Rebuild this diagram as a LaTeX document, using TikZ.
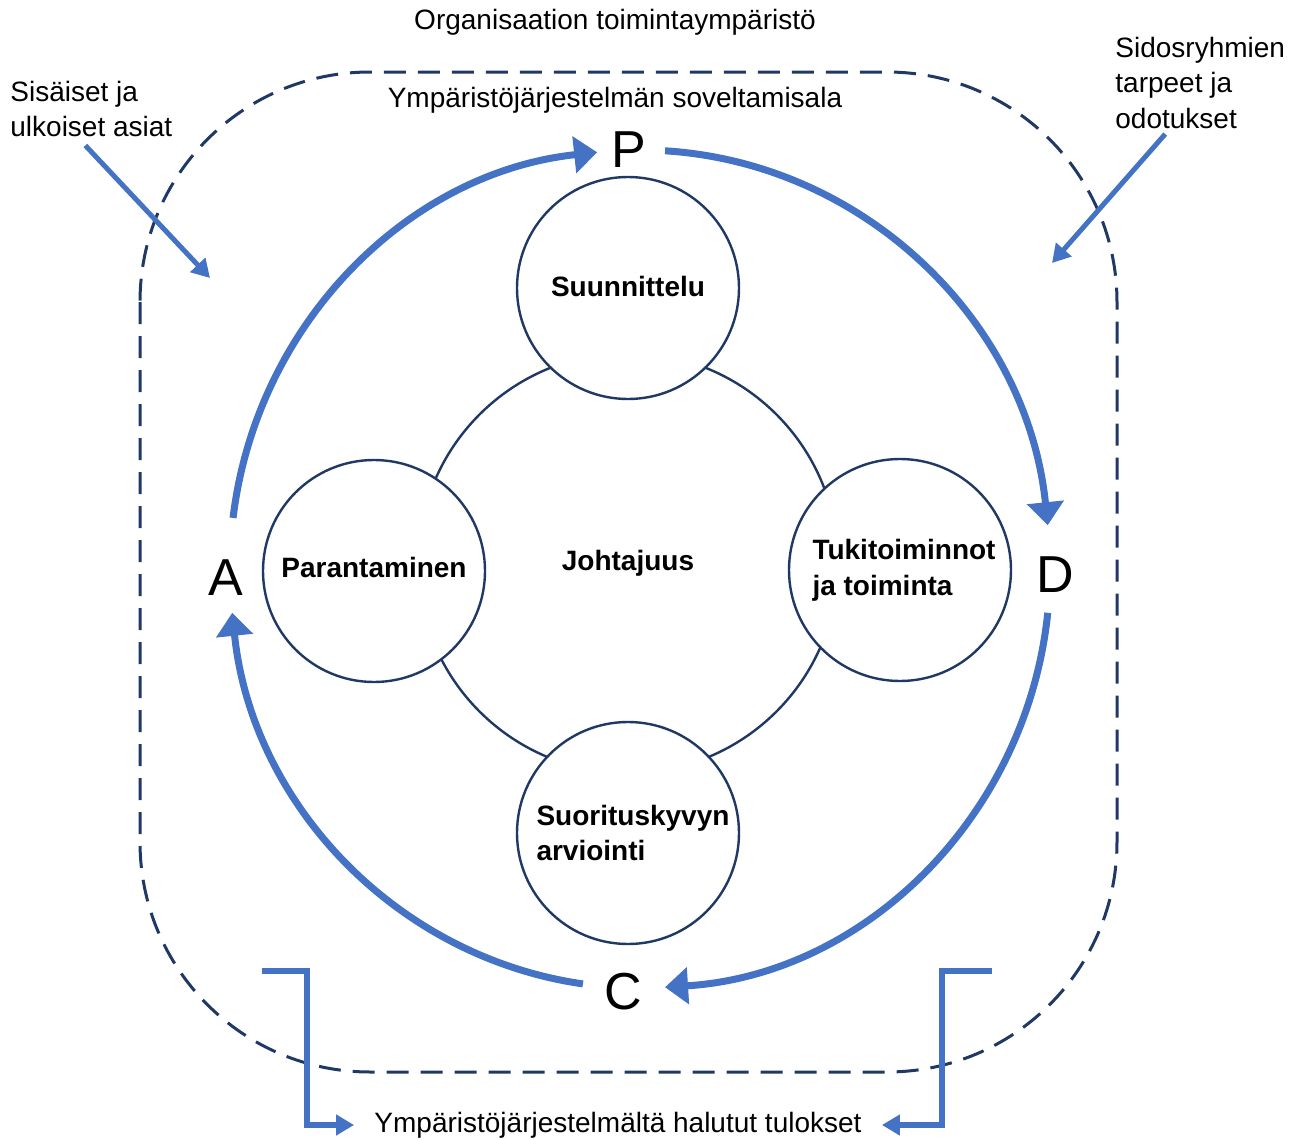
\documentclass[tikz,border=0pt]{standalone}
\usepackage{fontspec}
\setmainfont{Liberation Sans}
\usetikzlibrary{arrows.meta}
\definecolor{pdcablue}{HTML}{4472C4}
\definecolor{rajaus}{HTML}{1F3864}

\begin{document}
\begin{tikzpicture}[x=0.5pt,y=-0.5pt,
  teksti/.style={font=\fontsize{14}{17.8}\selectfont,inner sep=0pt},
  kirjain/.style={font=\fontsize{26}{30}\selectfont,inner sep=0pt},
  pallo/.style={circle,draw=rajaus,line width=1.2pt,fill=white,minimum size=111pt,
    inner sep=0pt,align=left,font=\fontsize{14}{17.8}\selectfont\bfseries},
  kierto/.style={draw=pdcablue,line width=3.5pt,-{Triangle[length=11.5pt,width=18pt]}},
  nuoli/.style={draw=pdcablue,line width=2.5pt,-{Triangle[length=9pt,width=10pt]}},
  haara/.style={draw=pdcablue,line width=3pt,-{Triangle[length=9pt,width=10pt]}},
]
\useasboundingbox (0,0) rectangle (1303,1140);

% toimintaymparisto (dashed frame)
\draw[rajaus,line width=1.5pt,dash pattern=on 11pt off 6pt,rounded corners=115pt]
  (140,72) rectangle (1117,1072);

\node[teksti] (ymp) at (615,22) {Organisaation toimintaympäristö};
\node[teksti] (sov) at (615,100) {Ympäristöjärjestelmän soveltamisala};
\node[teksti,align=left,anchor=north west] (sis) at (10,80.5) {Sisäiset ja\\ulkoiset asiat};
\node[teksti,align=left,anchor=north west] (sid) at (1115,36.5) {Sidosryhmien\\tarpeet ja\\odotukset};
\node[teksti,inner xsep=10pt] (tul) at (618,1125) {Ympäristöjärjestelmältä halutut tulokset};

% johtajuus and the four phases
\node[pallo,minimum size=210pt] (johto) at (628,563) {Johtajuus};
\node[pallo] (suun) at (628,288) {\raisebox{2pt}{Suunnittelu}};
\node[pallo] (para) at (374,571) {\raisebox{4pt}{Parantaminen}};
\node[pallo] (tuki) at (900,570) {\hspace{4pt}Tukitoiminnot\\\hspace{4pt}ja toiminta};
\node[pallo] (suor) at (628,833) {\hspace{5pt}Suorituskyvyn\\\hspace{5pt}arviointi};

% P D C A
\node[kirjain] (P) at (629,150) {P};
\node[kirjain] (D) at (1055,575) {D};
\node[kirjain] (C) at (623,992) {C};
\node[kirjain] (A) at (226,578) {A};

% PDCA ring, radii 410 and 419
\coordinate (keski) at (640,569);
\foreach \a/\b in {187/264, 273.5/354, 6/86.5, 98/174} {
  \draw[kierto] ([shift={(\a:410 and 419)}]keski)
    arc[start angle=\a,end angle=\b,x radius=410,y radius=419];
}

% inputs
\coordinate (sisk) at (210,278);
\coordinate (sidk) at (1052,263);
\draw[nuoli] ([xshift=-3pt,yshift=-4pt]sis.south) -- (sisk);
\draw[nuoli] ([xshift=-17.5pt,yshift=-2.5pt]sid.south) -- (sidk);

% outputs
\coordinate (vas) at (262,971);
\coordinate (oik) at (992,971);
\draw[haara] (vas) -- ++(45,0) |- (tul.west);
\draw[haara] (oik) -- ++(-50,0) |- (tul.east);
\end{tikzpicture}
\end{document}
